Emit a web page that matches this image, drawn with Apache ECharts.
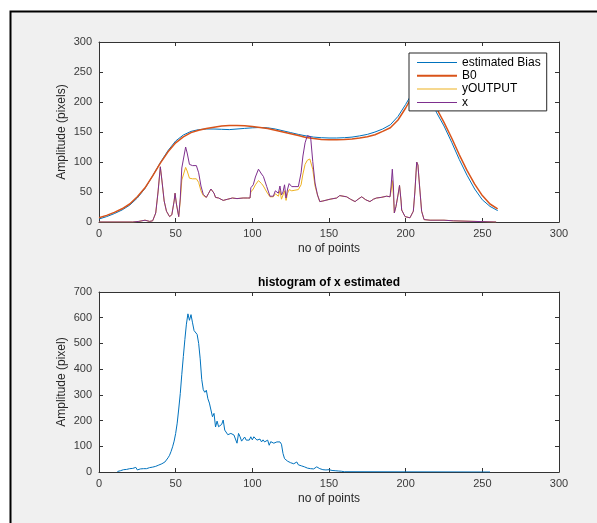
<!DOCTYPE html>
<html><head><meta charset="utf-8">
<script src="https://cdn.jsdelivr.net/npm/echarts@6/dist/echarts.min.js"></script>
<style>html,body{margin:0;padding:0;background:#fff}#c{width:597px;height:523px}</style>
</head><body><div id="c"></div><script>
// ---------- data ----------
const xTicksMax = 300;
const topYMax = 300;
const histYMax = 700;

const biasX = [0,5,10,15,20,25,30,35,40,45,50,55,60,65,70,75,80,85,90,95,100,105,110,115,120,125,130,135,140,145,150,155,160,165,170,175,180,185,190,195,200,205,210,215,220,225,230,235,240,245,250,255,260];
const estimatedBias = [5,9,14,20,28,40,56,77,99,119,135,145,151,154,155,155,154.5,154,155,156,157,157.5,157,155,152,149,146,143.5,141.5,140.5,140,140,140.5,141.5,143.5,146,150,155,162,176,196,218,232,222,183,160,133,104,78,55,37,26,19];
const b0 = [7,11,16,22,30,42,57,77,98,117,132,142,149,153,156,158,160,161,161,160.5,159,157.5,156,153,150,147,144,141,139,137.5,137,137,137.5,138.5,140,142,145.5,151,157,170,190,213,230,226,190,166,140,112,86,63,44,30,22];

const xSignal = [[0,0],[22,0],[26,1],[30,3],[33,1],[35,2],[37,15],[38.5,50],[40,92],[41,70],[42.5,35],[44,18],[46,9],[47.5,12],[49,35],[49.6,48],[50.5,30],[51.2,20],[52,9],[53,40],[54,90],[56.5,125],[57.5,115],[59,96],[61,94],[63.5,94],[65,82],[66.5,60],[68,46],[70,41],[71.3,47],[73,55],[74,52],[75,48],[76,41],[78,40],[81,36],[84,38],[87,40],[90,39],[94,40],[97,40],[98.5,40],[99,57],[100.6,62],[102,75],[104,88],[106,80],[107.2,76],[109.4,59],[111.5,43],[113.7,43],[115,52],[116,55],[117,48],[118,60],[119,45],[120,50],[121,62],[122,40],[123,55],[124,64],[125.7,59],[127.8,59],[130,59],[131.8,82],[133,110],[134.4,132],[135.9,144],[138,142],[139.4,101],[140.9,65],[142.5,45],[144,34],[146,35],[150.7,38],[155,40],[157,44],[161.5,42],[164,38],[167,34],[169,38],[171.3,42],[174,37],[176.7,34],[179,38],[181,40],[184,41],[187.6,43],[189.8,42],[190.5,60],[191.3,88],[192,60],[192.6,15],[193.7,26],[195,45],[196,61],[197,35],[197.4,20],[199.6,9],[202.8,7],[205,18],[206,50],[207.2,100],[208,95],[208.9,65],[210.4,18],[212,4],[215.9,3],[225,3],[231,2],[232,0],[259,0]];

const yOutput = [[0,0],[22,0],[26,1],[30,3],[33,1],[35,2],[37,15],[38.5,50],[40,92],[41,70],[42.5,35],[44,18],[46,9],[47.5,12],[49,35],[49.6,48],[50.5,30],[51.2,20],[52,9],[53,35],[54,70],[56.5,91],[57.5,85],[59,73],[61,72],[63.5,72],[65,66],[66.5,52],[68,44],[70,41],[71.3,47],[73,55],[74,52],[75,48],[76,41],[78,40],[81,36],[84,38],[87,40],[90,39],[94,40],[97,40],[98.5,40],[99,50],[100.6,55],[102,62],[104,69],[106,64],[107.2,60],[109.4,50],[111.5,42],[113.7,42],[115,47],[116,49],[117,43],[118,52],[119,38],[120,45],[121,52],[122,36],[123,48],[124,54],[125.7,52],[127.8,53],[130,54],[131.8,62],[133,80],[134.4,96],[135.9,103],[137.5,105],[139.4,88],[140.9,60],[142.5,45],[144,34],[146,35],[150.7,38],[155,40],[157,44],[161.5,42],[164,38],[167,34],[169,38],[171.3,42],[174,37],[176.7,34],[179,38],[181,40],[184,41],[187.6,43],[189.8,42],[190.5,52],[191.3,69],[192,45],[192.6,15],[193.7,26],[195,45],[196,61],[197,35],[197.4,20],[199.6,9],[202.8,7],[205,18],[206,50],[207.2,100],[208,95],[208.9,65],[210.4,18],[212,4],[215.9,3],[225,3],[231,2],[232,0],[259,0]];

const histX = [12,13,14,15,16,17,18,19,20,21,22,23,24,25,26,27,28,29,30,31,32,33,34,35,36,37,38,39,40,41,42,43,44,45,46,47,48,49,50,51,52,53,54,55,56,57,58,59,60,61,62,63,64,65,66,67,68,69,70,71,72,73,74,75,76,77,78,79,80,81,82,83,84,85,86,87,88,89,90,91,92,93,94,95,96,97,98,99,100,101,102,103,104,105,106,107,108,109,110,111,112,113,114,115,116,117,118,119,120,121,122,123,124,125,126,127,128,129,130,131,132,133,134,135,136,137,138,139,140,141,142,143,144,145,146,147,148,149,150,151,152,153,154,155,156,157,158,159,160,255];
const histY = [2,4,5,7,9,8,10,11,13,12,14,13,18,8,10,12,11,13,14,13,16,17,15,19,21,22,25,27,30,32,35,39,45,55,65,80,98,120,150,190,245,305,380,449,515,575,615,590,612,580,550,545,535,500,440,360,320,310,318,285,268,262,215,228,175,198,176,182,185,202,163,170,145,146,150,156,144,138,112,150,137,120,118,136,124,130,124,137,125,137,144,124,130,128,117,125,117,120,124,104,118,116,112,110,117,112,117,108,72,52,46,42,39,36,33,32,30,39,28,26,24,22,20,17,15,13,13,12,12,12,20,14,13,10,9,9,8,9,9,7,6,6,5,5,4,4,3,2,1,0];

// ---------- styling ----------
const AX = '#333333';
const FONT = 'Liberation Sans, Arial, Helvetica, sans-serif';
const pair = (xs, ys) => xs.map((x, i) => [x, ys[i]]);

function xAx(gi, bottom) {
  return {
    type: 'value', gridIndex: gi, min: 0, max: xTicksMax, interval: 50,
    position: bottom ? 'bottom' : 'top',
    name: bottom ? 'no of points' : '', nameLocation: 'middle', nameGap: 21,
    nameMoveOverlap: false,
    nameTextStyle: {color: '#262626', fontSize: 12, fontFamily: FONT},
    axisLine: {show: true, onZero: false, lineStyle: {color: AX, width: 1}},
    axisTick: {show: true, inside: true, length: 4, lineStyle: {color: AX}},
    axisLabel: {show: bottom, color: '#3a3a3a', fontSize: 11, fontFamily: FONT, margin: 6},
    splitLine: {show: false}
  };
}
function yAx(gi, left, max, interval, name) {
  return {
    type: 'value', gridIndex: gi, min: 0, max: max, interval: interval,
    position: left ? 'left' : 'right',
    name: left ? name : '', nameLocation: 'middle', nameGap: 31, nameRotate: 90,
    nameMoveOverlap: false,
    nameTextStyle: {color: '#262626', fontSize: 12, fontFamily: FONT},
    axisLine: {show: true, onZero: false, lineStyle: {color: AX, width: 1}},
    axisTick: {show: true, inside: true, length: 4, lineStyle: {color: AX}},
    axisLabel: {show: left, color: '#3a3a3a', fontSize: 11, fontFamily: FONT, margin: 7},
    splitLine: {show: false}
  };
}
function ln(name, data, color, w, xi, yi) {
  return {name: name, type: 'line', data: data, xAxisIndex: xi, yAxisIndex: yi,
    symbol: 'none', showSymbol: false, animation: false,
    lineStyle: {color: color, width: w}, itemStyle: {color: color}};
}
const thinIcon = 'path://M0,0H40V1H0Z';
const thickIcon = 'path://M0,0H40V2H0Z';

const chart = echarts.init(document.getElementById('c'), null, {renderer: 'canvas'});
chart.setOption({
  animation: false,
  backgroundColor: '#ffffff',
  graphic: [{
    type: 'rect', z: -100, silent: true,
    shape: {x: 10.5, y: 11.5, width: 700, height: 700},
    style: {fill: '#f0f0f0', stroke: '#000000', lineWidth: 2}
  }],
  title: {
    text: 'histogram of x estimated', left: 329, top: 277, textAlign: 'center', padding: 0,
    textStyle: {fontSize: 12, fontWeight: 'bold', color: '#000', fontFamily: FONT}
  },
  legend: {
    orient: 'vertical', left: 409, top: 53,
    padding: [3, 6, 2, 8], itemGap: 0.3, itemWidth: 40, itemHeight: 13,
    symbolKeepAspect: true,
    backgroundColor: '#ffffff', borderColor: '#262626', borderWidth: 1,
    textStyle: {fontSize: 12, color: '#000', fontFamily: FONT, lineHeight: 13},
    data: [
      {name: 'estimated Bias', icon: thinIcon},
      {name: 'B0', icon: thickIcon},
      {name: 'yOUTPUT', icon: thinIcon},
      {name: 'x', icon: thinIcon}
    ]
  },
  grid: [
    {left: 99, top: 42, width: 460, height: 180, show: true, backgroundColor: '#fff', borderWidth: 0},
    {left: 99, top: 292, width: 460, height: 180, show: true, backgroundColor: '#fff', borderWidth: 0}
  ],
  xAxis: [xAx(0, true), xAx(0, false), xAx(1, true), xAx(1, false)],
  yAxis: [yAx(0, true, topYMax, 50, 'Amplitude (pixels)'), yAx(0, false, topYMax, 50, ''),
          yAx(1, true, histYMax, 100, 'Amplitude (pixel)'), yAx(1, false, histYMax, 100, '')],
  series: [
    ln('estimated Bias', pair(biasX, estimatedBias), '#0072BD', 1, 0, 0),
    ln('B0', pair(biasX, b0), '#D95319', 1.5, 0, 0),
    ln('yOUTPUT', yOutput, '#EDB120', 1, 0, 0),
    ln('x', xSignal, '#7E2F8E', 1, 0, 0),
    ln('histogram', pair(histX, histY), '#0072BD', 1, 2, 2)
  ]
});
</script></body></html>
